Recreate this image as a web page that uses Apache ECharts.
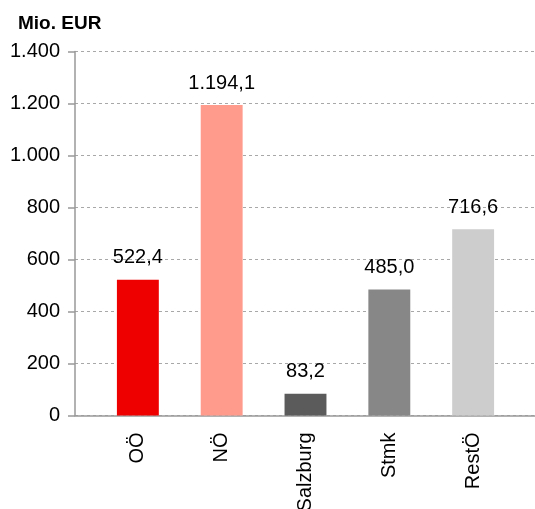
<!DOCTYPE html>
<html>
<head>
<meta charset="utf-8">
<script src="https://cdn.jsdelivr.net/npm/echarts@6/dist/echarts.min.js"></script>
<style>
	html, body { margin: 0; padding: 0; background: #fff; }
	#chart { width: 535px; height: 509px; }
</style>
</head>
<body>
<div id="chart"></div>
<script>
	var categories = ['OÖ', 'NÖ', 'Salzburg', 'Stmk', 'RestÖ'];
	var values = [522.4, 1194.1, 83.2, 485.0, 716.6];
	var colorList = ['#ef0000', '#ff9b8d', '#5b5b5b', '#878787', '#cdcdcd'];
	var yTicks = [0, 200, 400, 600, 800, 1000, 1200, 1400];

	// each bar sits in the odd slot of 11 half-width slots
	var slots = [];
	var slotData = [];
	slots.push('gap0');
	slotData.push(null);
	for (var i = 0; i < categories.length; i++) {
		slots.push(categories[i]);
		slotData.push({ value: values[i], itemStyle: { color: colorList[i] } });
		slots.push('gap' + (i + 1));
		slotData.push(null);
	}

	function fmtDe(v, dec) {
		var parts = v.toFixed(dec).split('.');
		var intPart = parts[0].replace(/\B(?=(\d{3})+(?!\d))/g, '.');
		return parts.length > 1 ? intPart + ',' + parts[1] : intPart;
	}

	var chart = echarts.init(document.getElementById('chart'));
	chart.setOption({
		animation: false,
		title: {
			text: 'Mio. EUR',
			left: 13,
			top: 9,
			textStyle: {
				fontFamily: 'Liberation Sans, Arial',
				fontSize: 19,
				fontWeight: 'bold',
				color: '#000'
			}
		},
		grid: {
			left: 75,
			top: 51.5,
			width: 461,
			height: 364,
			outerBoundsMode: 'none'
		},
		xAxis: {
			type: 'category',
			data: slots,
			boundaryGap: true,
			axisLine: { lineStyle: { color: '#999', width: 1.5 } },
			axisTick: { interval: 0, length: 7, lineStyle: { color: '#999', width: 1.5 } },
			axisLabel: {
				interval: function (idx) { return idx % 2 === 1; },
				rotate: 90,
				margin: 17,
				fontFamily: 'Liberation Sans, Arial',
				fontSize: 20,
				color: '#000'
			},
			splitLine: { show: false }
		},
		yAxis: {
			type: 'value',
			min: yTicks[0],
			max: yTicks[yTicks.length - 1],
			interval: 200,
			axisLine: { show: true, lineStyle: { color: '#999', width: 1.5 } },
			axisTick: { show: true, length: 7, lineStyle: { color: '#999', width: 1.5 } },
			axisLabel: {
				margin: 15,
				fontFamily: 'Liberation Sans, Arial',
				fontSize: 20,
				color: '#000',
				formatter: function (v) { return fmtDe(v, 0); }
			},
			splitLine: { lineStyle: { color: '#a8a8a8', type: [3, 3], width: 1 } }
		},
		series: [{
			type: 'bar',
			data: slotData,
			barWidth: '100%',
			label: {
				show: true,
				position: 'top',
				distance: 12,
				fontFamily: 'Liberation Sans, Arial',
				fontSize: 20,
				color: '#000',
				formatter: function (p) { return fmtDe(p.value, 1); }
			}
		}]
	});
</script>
</body>
</html>
